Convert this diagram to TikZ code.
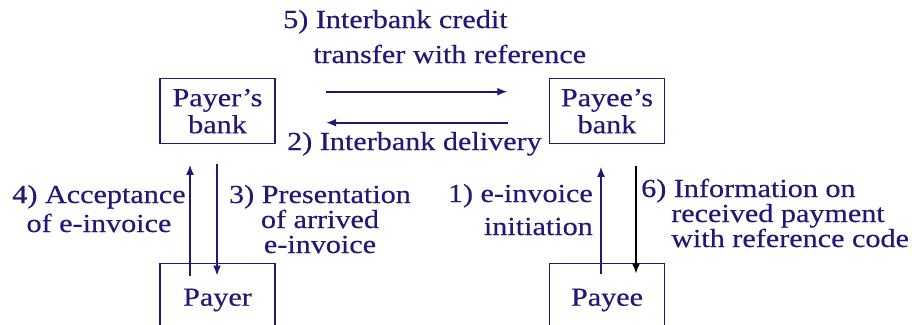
\documentclass[tikz,border=0pt]{standalone}
\usepackage{fontspec}
\setmainfont[FakeStretch=1.16, FakeBold=0.35]{Liberation Serif}
\usetikzlibrary{arrows.meta}
\definecolor{ink}{RGB}{38,22,118}
\tikzset{
  party/.style={draw=ink, line width=1.4pt, minimum width=115pt, inner sep=0pt,
                text=ink, font=\fontsize{26}{27}\selectfont},
  flow/.style={ink, line width=2.2pt, -{Latex[length=10.5pt,width=8pt]}},
  note/.style={text=ink, inner sep=0pt, font=\fontsize{26}{28}\selectfont},
}
\begin{document}
\begin{tikzpicture}[x=1pt, y=-1pt]
  \useasboundingbox (0,0) rectangle (912,324);
  \clip (0,0) rectangle (912,324);

  % parties
  \node[party, minimum height=65pt, anchor=north, align=center]
        (payerbank) at (217.5,78) {Payer’s\\bank};
  \node[party, minimum height=65pt, anchor=north, align=center]
        (payeebank) at (607,78) {Payee’s\\bank};
  \node[party, minimum height=75pt, anchor=north]
        (payer) at (217.5,263) {\raisebox{8pt}{Payer}};
  \node[party, minimum height=75pt, anchor=north]
        (payee) at (607,263) {\raisebox{8pt}{Payee}};

  % interbank messages
  \draw[flow] ([xshift=50pt,yshift=19.5pt]payerbank.east)
           -- ([xshift=-41pt,yshift=19.5pt]payeebank.west);
  \draw[flow] ([xshift=-41pt,yshift=-11.5pt]payeebank.west)
           -- ([xshift=50pt,yshift=-11.5pt]payerbank.east);

  % payer side
  \draw[flow] ([xshift=-27.5pt,yshift=-13pt]payer.north)
           -- ([xshift=-27.5pt,yshift=-20pt]payerbank.south);
  \draw[flow] ([xshift=-0.5pt,yshift=-20pt]payerbank.south)
           -- ([xshift=-0.5pt,yshift=-13pt]payer.north);

  % payee side
  \draw[flow] ([xshift=-6pt,yshift=-11pt]payee.north)
           -- ([xshift=-6pt,yshift=-22pt]payeebank.south);
  \draw[flow, black] ([xshift=29pt,yshift=-22pt]payeebank.south)
           -- ([xshift=29pt,yshift=-11pt]payee.north);

  % labels (base anchor sits on the last line)
  \node[note, anchor=base west, align=left,
        font=\fontsize{26}{35}\selectfont] (l5) at (283,63)
        {5) Interbank credit\\\hspace*{30pt}transfer with reference};
  \node[note, anchor=base west] (l2) at (287,150) {2) Interbank delivery};
  \node[note, anchor=base, align=center, font=\fontsize{26}{29}\selectfont]
        (l4) at (99,232) {4) Acceptance\\of e-invoice};
  \node[note, anchor=base, align=center, font=\fontsize{26}{25}\selectfont]
        (l3) at (320,253) {3) Presentation\\of arrived\\e-invoice};
  \node[note, anchor=base east, align=right, font=\fontsize{26}{33}\selectfont]
        (l1) at (593,235) {1) e-invoice\\initiation};
  \node[note, anchor=base west, align=left, font=\fontsize{26}{25}\selectfont]
        (l6) at (641,247)
        {6) Information on\\\hspace*{30pt}received payment\\\hspace*{30pt}with reference code};
\end{tikzpicture}
\end{document}
